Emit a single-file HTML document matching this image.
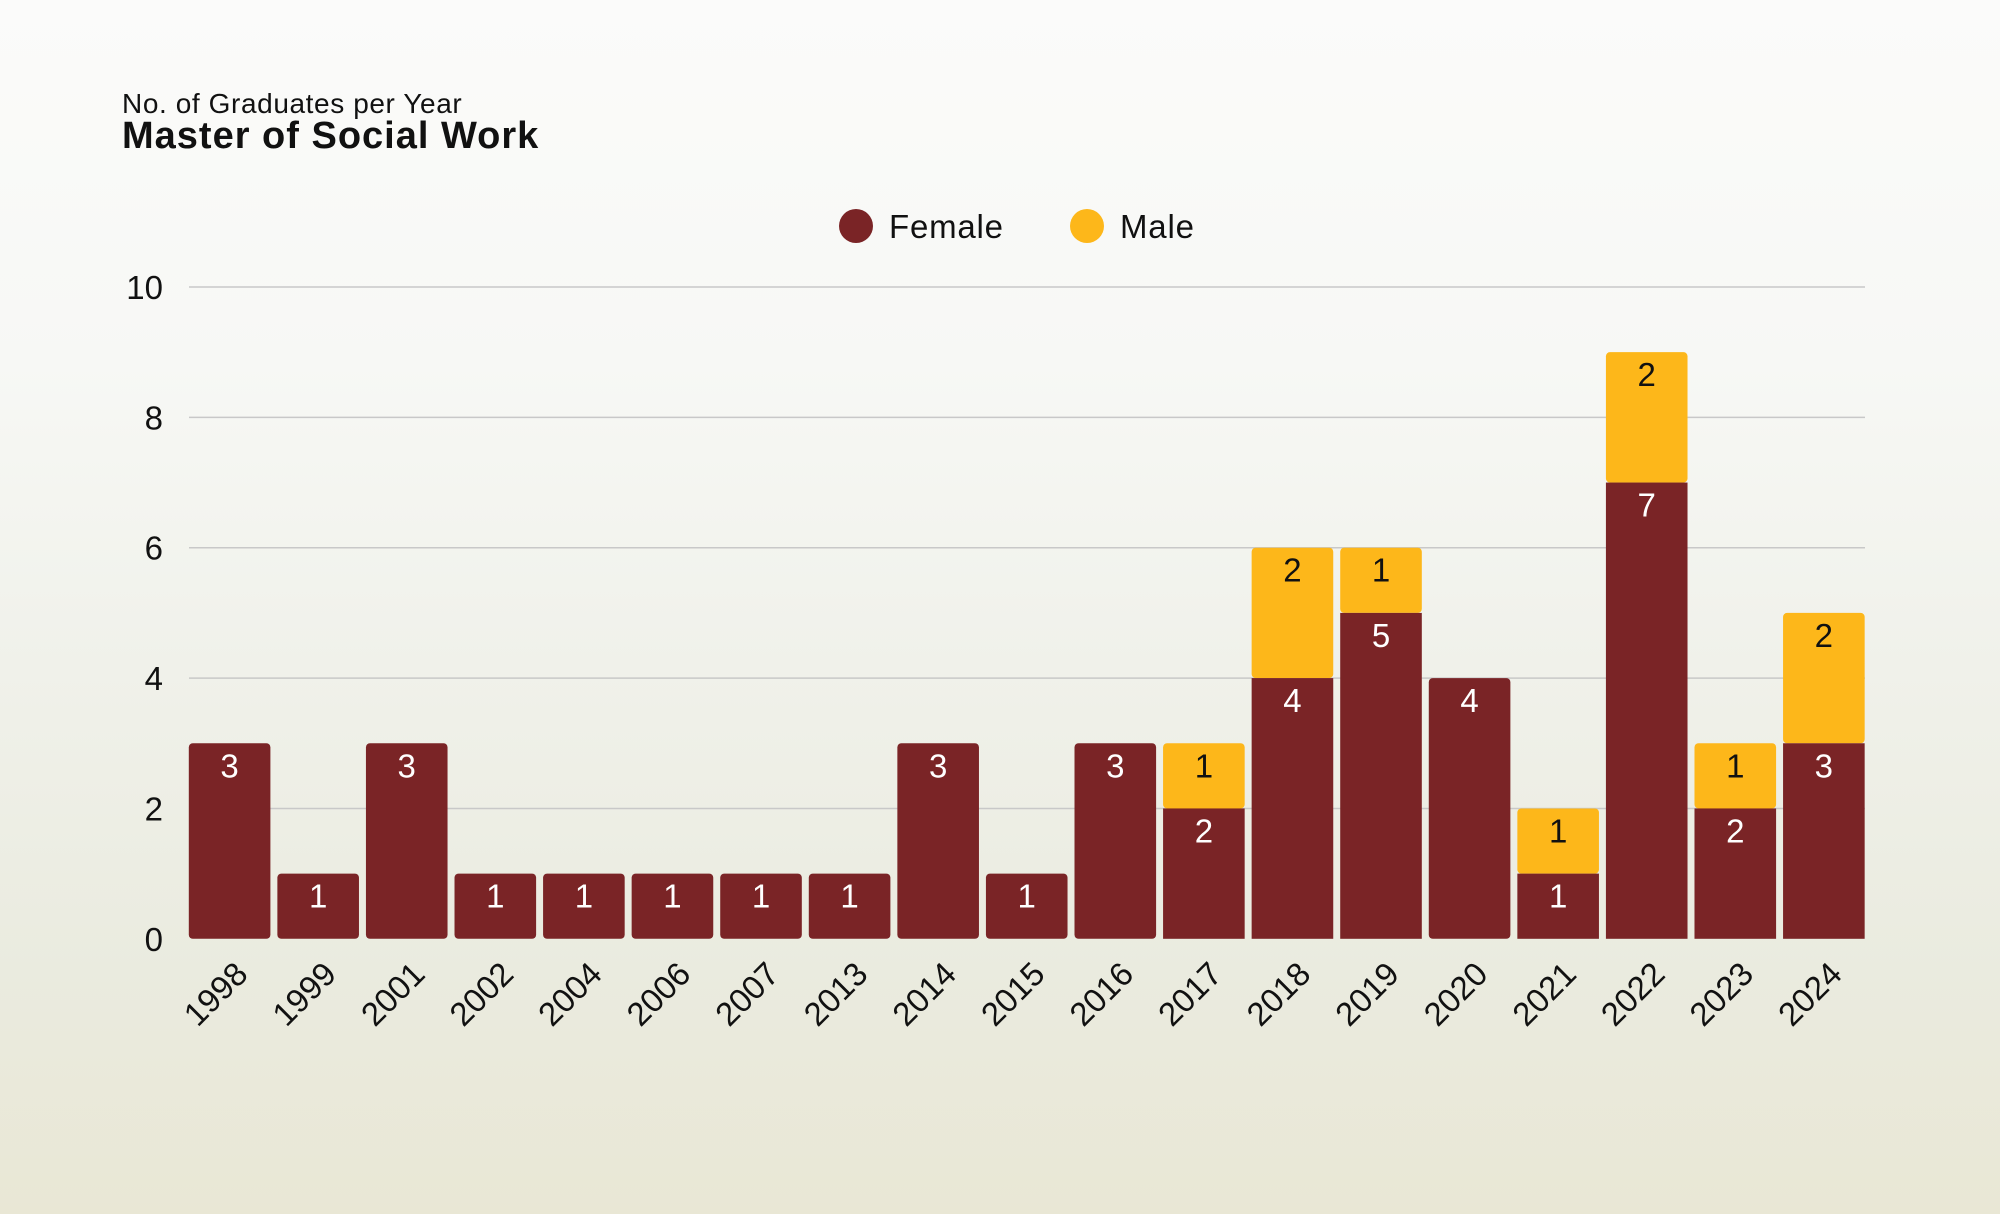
<!DOCTYPE html>
<html><head><meta charset="utf-8"><style>
html,body{margin:0;padding:0;width:2000px;height:1214px;overflow:hidden}
body{background:linear-gradient(180deg,#fbfbfa 0%,#f7f8f5 30%,#f0f1ea 55%,#eaebdf 80%,#e9e7d5 100%);font-family:"Liberation Sans",sans-serif}
svg{position:absolute;left:0;top:0}
</style></head><body>
<svg id="c" width="2000" height="1214" viewBox="0 0 2000 1214" xmlns="http://www.w3.org/2000/svg">
<text x="122" y="113" font-size="28" fill="#111" letter-spacing="0.6">No. of Graduates per Year</text>
<text x="122" y="148" font-size="38" font-weight="bold" fill="#111" letter-spacing="1">Master of Social Work</text>
<circle cx="856" cy="226" r="17" fill="#7a2426"/>
<text x="889" y="238" font-size="33" fill="#111" letter-spacing="0.8">Female</text>
<circle cx="1087" cy="226" r="17" fill="#fdb71a"/>
<text x="1120" y="238" font-size="33" fill="#111" letter-spacing="0.8">Male</text>
<g id="g"></g>
</svg>
<script>
var g=document.getElementById('g'),h='';
var y0=938.8,u=65.18;
for(var i=0;i<=10;i+=2){var y=y0-i*u;
 if(i>0)h+='<line x1="189" x2="1865" y1="'+y+'" y2="'+y+'" stroke="#c8c8c8" stroke-width="1.5"/>';
 h+='<text x="163" y="'+(y+12)+'" font-size="33" text-anchor="end" fill="#111">'+i+'</text>';}
var d=[["1998",3,0],["1999",1,0],["2001",3,0],["2002",1,0],["2004",1,0],["2006",1,0],["2007",1,0],["2013",1,0],["2014",3,0],["2015",1,0],["2016",3,0],["2017",2,1],["2018",4,2],["2019",5,1],["2020",4,0],["2021",1,1],["2022",7,2],["2023",2,1],["2024",3,2]];
var w=81.6,p=88.57;
d.forEach(function(r,k){var x=188.8+k*p,cx=x+w/2,f=r[1],m=r[2];
 var tf=y0-f*u,tm=y0-(f+m)*u;
 if(m>0){h+='<rect x="'+x+'" y="'+tm+'" width="'+w+'" height="'+(m*u)+'" rx="4" fill="#fdb71a"/>';
  h+='<rect x="'+x+'" y="'+tf+'" width="'+w+'" height="'+(f*u)+'" fill="#7a2426"/>';
  h+='<text x="'+cx+'" y="'+(tm+34)+'" font-size="33" text-anchor="middle" fill="#111">'+m+'</text>';}
 else h+='<rect x="'+x+'" y="'+tf+'" width="'+w+'" height="'+(f*u)+'" rx="4" fill="#7a2426"/>';
 h+='<text x="'+cx+'" y="'+(tf+34)+'" font-size="33" text-anchor="middle" fill="#fff">'+f+'</text>';
 h+='<text transform="translate('+(cx+20)+',976) rotate(-45)" font-size="33" text-anchor="end" fill="#111">'+r[0]+'</text>';
});
g.innerHTML=h;
</script>
</body></html>
